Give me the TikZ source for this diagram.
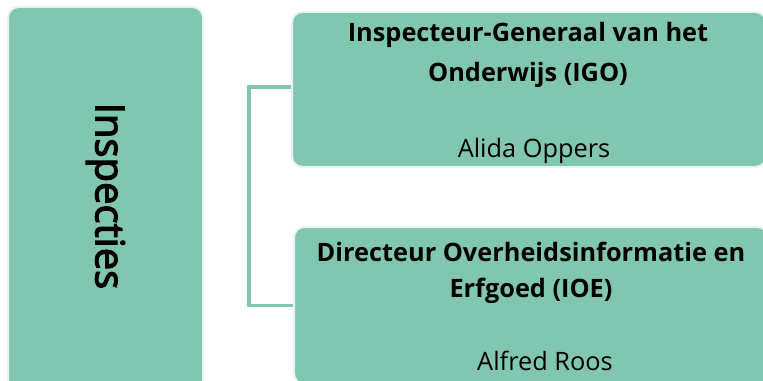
\documentclass[tikz,border=0pt]{standalone}
\usepackage{fontspec}
\setmainfont{Open Sans}
\newfontfamily\inspfont{Open Sans}[FakeBold=3]
\definecolor{boxfill}{RGB}{128,198,176}
\definecolor{boxedge}{RGB}{232,243,239}
\begin{document}
\begin{tikzpicture}[x=0.75pt,y=-0.75pt,
  orgbox/.style={fill=boxfill,draw=boxedge,line width=1.5pt,rounded corners=8pt,inner sep=0pt},
  link/.style={draw=boxfill,line width=2.6pt},
  boxtext/.style={font=\fontsize{19}{24}\selectfont,inner sep=0pt,anchor=base}]
\useasboundingbox (0,0) rectangle (763,381);
\clip (0,0) rectangle (763,381);
\fill[white] (0,0) rectangle (763,381);
\node[orgbox,minimum width=195*0.75pt,minimum height=388*0.75pt] (insp) at (105.5,201) {};
\node[rotate=-90,font=\inspfont\fontsize{30}{36}\selectfont] (insplabel) at ([yshift=3.75pt]insp.center) {Inspecties};
\node[orgbox,minimum width=474*0.75pt,minimum height=155*0.75pt] (igo) at (529,89.5) {};
\node[orgbox,minimum width=474*0.75pt,minimum height=157*0.75pt] (ioe) at (531,305.5) {};
\node[boxtext,font=\bfseries\fontsize{19}{24}\selectfont] (igo1) at (528,42) {Inspecteur-Generaal van het};
\node[boxtext,font=\bfseries\fontsize{19}{24}\selectfont] (igo2) at (528,82) {Onderwijs (IGO)};
\node[boxtext] (igo3) at (534,157) {Alida Oppers};
\node[boxtext,font=\bfseries\fontsize{19}{24}\selectfont] (ioe1) at (531,261) {Directeur Overheidsinformatie en};
\node[boxtext,font=\bfseries\fontsize{19}{24}\selectfont] (ioe2) at (531,297) {Erfgoed (IOE)};
\node[boxtext] (ioe3) at (545,370) {Alfred Roos};
\coordinate (bend) at (249,87);
\draw[link] (igo.west |- bend) -- (bend) |- (ioe.west);
\end{tikzpicture}
\end{document}
